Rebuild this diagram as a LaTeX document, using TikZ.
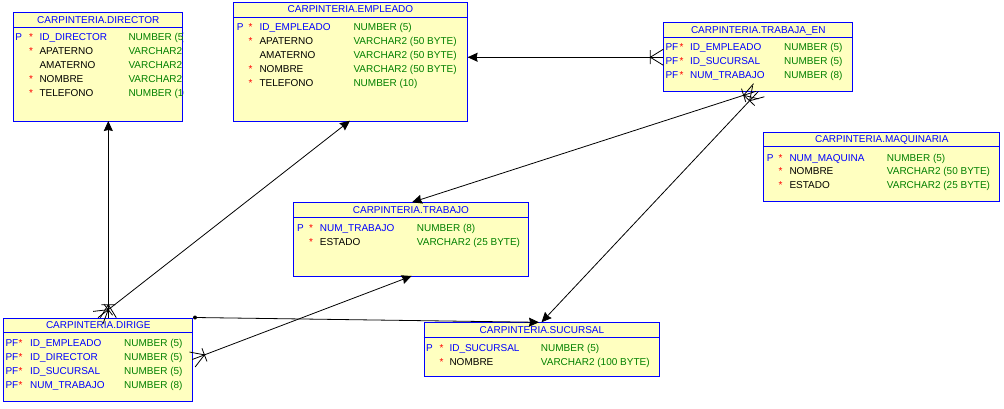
\documentclass[tikz,border=0pt]{standalone}
\usepackage{fontspec}
\setmainfont{Liberation Sans}
\usetikzlibrary{arrows.meta,calc}
\definecolor{tablefill}{RGB}{255,255,192}
\definecolor{tableblue}{RGB}{0,0,255}
\definecolor{typegreen}{RGB}{0,128,0}

\tikzset{
  txt/.style={inner sep=0pt,anchor=base west,font=\fontsize{10}{12}\selectfont},
  clave/.style={txt,text=tableblue},
  campo/.style={txt,text=black},
  tipo/.style={txt,text=typegreen},
  ast/.style={txt,text=red},
  titulo/.style={txt,anchor=base,text=tableblue},
  tabla/.style={draw=tableblue,fill=tablefill,line width=0.9pt,anchor=north west,inner sep=0pt},
  sep/.style={draw=tableblue,line width=0.9pt},
  conn/.style={draw=black,line width=0.8pt},
  flecha/.style={conn,-{Stealth[length=10pt,width=9pt,inset=1pt]}}
}

% crow's foot at #1, pointing away from #2
\newcommand{\crowsfoot}[2]{%
  \coordinate (cf_bar) at ($(#1)!13pt!(#2)$);
  \draw[conn] (cf_bar) -- ($(#1)!8pt!90:(#2)$)
              (cf_bar) -- ($(#1)!8pt!-90:(#2)$)
              ($(cf_bar)!7pt!90:(#2)$) -- ($(cf_bar)!7pt!-90:(#2)$);}

\begin{document}
\begin{tikzpicture}[x=1pt,y=-1pt]
			\fill[white] (0,0) rectangle (1004,409);
			\useasboundingbox (0,0) rectangle (1004,409);
			% tables
			\node[tabla,minimum width=169,minimum height=108.7] (director) at (13.3,12.3) {};
			\node[tabla,minimum width=233.4,minimum height=118.7] (empleado) at (233.3,2) {};
			\node[tabla,minimum width=189,minimum height=69] (trabaja_en) at (663.3,22.3) {};
			\node[tabla,minimum width=236,minimum height=69.6] (maquinaria) at (763.3,131.7) {};
			\node[tabla,minimum width=234.4,minimum height=73.7] (trabajo) at (293.3,202.3) {};
			\node[tabla,minimum width=189,minimum height=83.3] (dirige) at (3.3,317.7) {};
			\node[tabla,minimum width=235.6,minimum height=53.7] (sucursal) at (423.7,322.3) {};
			\foreach \t in {director,empleado,trabaja_en,maquinaria,trabajo,dirige,sucursal}
				\draw[sep] ($(\t.north west)+(0,15)$) -- ($(\t.north east)+(0,15)$);
			
			% CARPINTERIA.DIRECTOR
			\node[titulo] at ($(director.north)+(0,11)$) {CARPINTERIA.DIRECTOR};
			\begin{scope}
			\clip (director.north west) rectangle (director.south east);
			\node[clave] at (15.3,41) {P};
			\node[ast] at (29,41) {*};
			\node[clave] at (39.3,41) {ID\_DIRECTOR};
			\node[tipo] at (128.3,41) {NUMBER (5)};
			\node[ast] at (29,55) {*};
			\node[campo] at (39.3,55) {APATERNO};
			\node[tipo] at (128.3,55) {VARCHAR2 (50 BYTE)};
			\node[campo] at (39.3,69) {AMATERNO};
			\node[tipo] at (128.3,69) {VARCHAR2 (50 BYTE)};
			\node[ast] at (29,83) {*};
			\node[campo] at (39.3,83) {NOMBRE};
			\node[tipo] at (128.3,83) {VARCHAR2 (50 BYTE)};
			\node[ast] at (29,97) {*};
			\node[campo] at (39.3,97) {TELEFONO};
			\node[tipo] at (128.3,97) {NUMBER (10)};
			\end{scope}
			
			% CARPINTERIA.EMPLEADO
			\node[titulo] at ($(empleado.north)+(0,11)$) {CARPINTERIA.EMPLEADO};
			\node[clave] at (236.7,30.7) {P};
			\node[ast] at (248.5,30.7) {*};
			\node[clave] at (259.3,30.7) {ID\_EMPLEADO};
			\node[tipo] at (353.3,30.7) {NUMBER (5)};
			\node[ast] at (248.5,44.7) {*};
			\node[campo] at (259.3,44.7) {APATERNO};
			\node[tipo] at (353.3,44.7) {VARCHAR2 (50 BYTE)};
			\node[campo] at (259.3,58.7) {AMATERNO};
			\node[tipo] at (353.3,58.7) {VARCHAR2 (50 BYTE)};
			\node[ast] at (248.5,72.7) {*};
			\node[campo] at (259.3,72.7) {NOMBRE};
			\node[tipo] at (353.3,72.7) {VARCHAR2 (50 BYTE)};
			\node[ast] at (248.5,86.7) {*};
			\node[campo] at (259.3,86.7) {TELEFONO};
			\node[tipo] at (353.3,86.7) {NUMBER (10)};
			
			% CARPINTERIA.TRABAJA_EN
			\node[titulo] at ($(trabaja_en.north)+(0,11)$) {CARPINTERIA.TRABAJA\_EN};
			\node[clave] at (665.3,51) {PF};
			\node[ast] at (679.3,51) {*};
			\node[clave] at (690,51) {ID\_EMPLEADO};
			\node[tipo] at (784,51) {NUMBER (5)};
			\node[clave] at (665.3,65) {PF};
			\node[ast] at (679.3,65) {*};
			\node[clave] at (690,65) {ID\_SUCURSAL};
			\node[tipo] at (784,65) {NUMBER (5)};
			\node[clave] at (665.3,79) {PF};
			\node[ast] at (679.3,79) {*};
			\node[clave] at (690,79) {NUM\_TRABAJO};
			\node[tipo] at (784,79) {NUMBER (8)};
			
			% CARPINTERIA.MAQUINARIA
			\node[titulo] at ($(maquinaria.north)+(0,11)$) {CARPINTERIA.MAQUINARIA};
			\node[clave] at (766.7,161) {P};
			\node[ast] at (778.3,161) {*};
			\node[clave] at (789.3,161) {NUM\_MAQUINA};
			\node[tipo] at (886.7,161) {NUMBER (5)};
			\node[ast] at (778.3,175) {*};
			\node[campo] at (789.3,175) {NOMBRE};
			\node[tipo] at (886.7,175) {VARCHAR2 (50 BYTE)};
			\node[ast] at (778.3,189) {*};
			\node[campo] at (789.3,189) {ESTADO};
			\node[tipo] at (886.7,189) {VARCHAR2 (25 BYTE)};
			
			% CARPINTERIA.TRABAJO
			\node[titulo] at ($(trabajo.north)+(0,11)$) {CARPINTERIA.TRABAJO};
			\node[clave] at (297,231) {P};
			\node[ast] at (309,231) {*};
			\node[clave] at (319.7,231) {NUM\_TRABAJO};
			\node[tipo] at (416.7,231) {NUMBER (8)};
			\node[ast] at (309,245) {*};
			\node[campo] at (319.7,245) {ESTADO};
			\node[tipo] at (416.7,245) {VARCHAR2 (25 BYTE)};
			
			% CARPINTERIA.DIRIGE
			\node[titulo] at ($(dirige.north)+(0,11)$) {CARPINTERIA.DIRIGE};
			\node[clave] at (5.3,346) {PF};
			\node[ast] at (18.3,346) {*};
			\node[clave] at (30,346) {ID\_EMPLEADO};
			\node[tipo] at (124,346) {NUMBER (5)};
			\node[clave] at (5.3,360) {PF};
			\node[ast] at (18.3,360) {*};
			\node[clave] at (30,360) {ID\_DIRECTOR};
			\node[tipo] at (124,360) {NUMBER (5)};
			\node[clave] at (5.3,374) {PF};
			\node[ast] at (18.3,374) {*};
			\node[clave] at (30,374) {ID\_SUCURSAL};
			\node[tipo] at (124,374) {NUMBER (5)};
			\node[clave] at (5.3,388) {PF};
			\node[ast] at (18.3,388) {*};
			\node[clave] at (30,388) {NUM\_TRABAJO};
			\node[tipo] at (124,388) {NUMBER (8)};
			
			% CARPINTERIA.SUCURSAL
			\node[titulo] at ($(sucursal.north)+(0,11)$) {CARPINTERIA.SUCURSAL};
			\node[clave] at (426,351) {P};
			\node[ast] at (439.3,351) {*};
			\node[clave] at (449.3,351) {ID\_SUCURSAL};
			\node[tipo] at (540.7,351) {NUMBER (5)};
			\node[ast] at (439.3,365) {*};
			\node[campo] at (449.3,365) {NOMBRE};
			\node[tipo] at (540.7,365) {VARCHAR2 (100 BYTE)};
			
			% relationship ends
			\coordinate (d_dir) at (108.3,317.7);
			\coordinate (dir_d) at (108.3,121);
			\coordinate (d_emp) at (98,317.7);
			\coordinate (emp_d) at (350,120.7);
			\coordinate (d_trab) at (192.3,359.5);
			\coordinate (trab_d) at (411.7,276);
			\coordinate (d_suc) at (195,317.5);
			\coordinate (suc_d) at (539,322.3);
			\coordinate (te_emp) at (empleado.east |- trabaja_en.west);
			\coordinate (te_trab) at (756,91.3);
			\coordinate (trab_te) at (412,202.3);
			\coordinate (te_suc) at (758.5,91.3);
			\coordinate (suc_te) at (541.5,322.3);
			
			\draw[flecha] (d_dir) -- (dir_d);
			\crowsfoot{d_dir}{dir_d}
			\draw[flecha] (d_emp) -- (emp_d);
			\crowsfoot{d_emp}{emp_d}
			\draw[flecha] (d_trab) -- (trab_d);
			\crowsfoot{d_trab}{trab_d}
			\draw[flecha] (d_suc) -- (suc_d);
			\fill (d_suc) circle (2pt);
			\draw[flecha] (trabaja_en.west) -- (te_emp);
			\crowsfoot{trabaja_en.west}{te_emp}
			\draw[flecha] (te_trab) -- (trab_te);
			\crowsfoot{te_trab}{trab_te}
			\draw[flecha] (te_suc) -- (suc_te);
			\crowsfoot{te_suc}{suc_te}
			
		\end{tikzpicture}
\end{document}
